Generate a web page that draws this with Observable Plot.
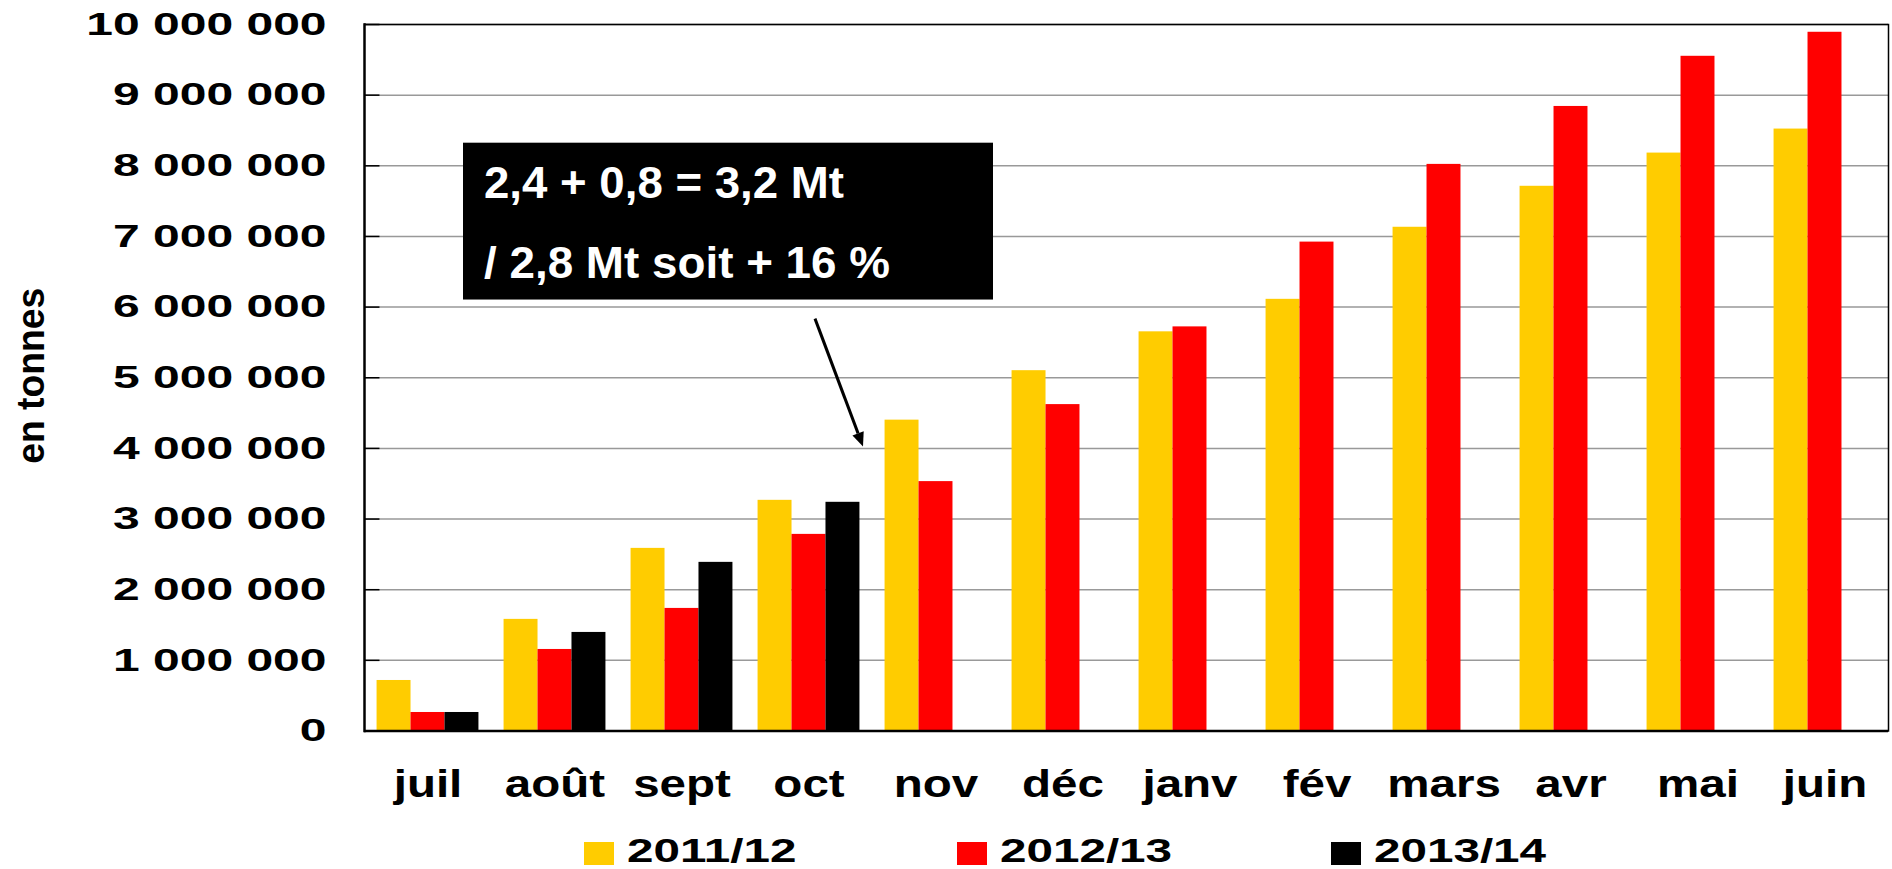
<!DOCTYPE html>
<html>
<head>
<meta charset="utf-8">
<script src="https://cdn.jsdelivr.net/npm/d3@7"></script>
<script src="https://cdn.jsdelivr.net/npm/@observablehq/plot@0.6"></script>
<style>
  html, body { margin: 0; padding: 0; background: #fff; }
  #chart { position: relative; width: 1892px; height: 869px;
           font-family: "Liberation Sans", Arial, sans-serif; }
  #legend { position: relative; width: 1892px; height: 54px; }
  #legend .sw { position: absolute; top: 27px; width: 30px; height: 23px; }
  #legend .lab { position: absolute; top: 19.7px; line-height: 30px; font-size: 34px;
                 font-weight: bold; color: #000; white-space: nowrap;
                 transform: scaleX(1.4); transform-origin: left center; }
</style>
</head>
<body>
<div id="chart"></div>
<script>
// ---- data ----
const months = ["juil", "août", "sept", "oct", "nov", "déc", "janv", "fév", "mars", "avr", "mai", "juin"];
const seasons = ["2011/12", "2012/13", "2013/14"];
const values2011 = [715000, 1580000, 2585000, 3265000, 4400000, 5100000, 5650000, 6110000, 7130000, 7710000, 8180000, 8520000];
const values2012 = [262000, 1154000, 1735000, 2783000, 3530000, 4620000, 5720000, 6920000, 8020000, 8840000, 9550000, 9890000];
const values2013 = [262000, 1395000, 2387000, 3237000, null, null, null, null, null, null, null, null];
const seasonColors = ["#FFCC00", "#FF0000", "#000000"];
const yTicks = [0, 1000000, 2000000, 3000000, 4000000, 5000000, 6000000, 7000000, 8000000, 9000000, 10000000];
const yLabel = "en tonnes";
const noteLines = ["2,4 + 0,8 = 3,2 Mt", "/ 2,8 Mt soit + 16 %"];

const FONT = '"Liberation Sans", Arial, sans-serif';
const seriesValues = [values2011, values2012, values2013];
const rows = [];
seriesValues.forEach((vals, s) => vals.forEach((v, i) => {
  if (v != null) rows.push({month: months[i], season: seasons[s], value: v});
}));
const fmt = v => d3.format(",")(v).replace(/,/g, " ");

const W = 1892, H = 815, ML = 362, MR = 3, MT = 24, MB = 84.5;
const facetWidth = (W - ML - MR) / months.length;

const plot = Plot.plot({
  width: W, height: H,
  marginLeft: ML, marginRight: MR, marginTop: MT, marginBottom: MB,
  style: {fontFamily: FONT, color: "#000", background: "#fff", overflow: "visible"},
  fx: {domain: months, padding: 0, label: null},
  x: {domain: seasons, paddingInner: 0, paddingOuter: 0.37, axis: null, round: false},
  y: {domain: [0, 10000000], label: null},
  color: {domain: seasons, range: seasonColors},
  marks: [
    Plot.gridY(yTicks, {stroke: "#999", strokeOpacity: 1, strokeWidth: 1.5}),
    Plot.barY(rows, {fx: "month", x: "season", y: "value", fill: "season"}),
    Plot.ruleY(yTicks, {facetAnchor: "left", insetRight: facetWidth - 15.7, stroke: "#000", strokeWidth: 1.5}),
    Plot.ruleY([0], {stroke: "#000", strokeWidth: 2.5}),
    Plot.ruleY([10000000], {stroke: "#000", strokeWidth: 1.5}),
    Plot.frame({anchor: "left", facetAnchor: "left", stroke: "#000", strokeWidth: 2.5}),
    Plot.frame({anchor: "right", facetAnchor: "right", stroke: "#000", strokeWidth: 1.5}),
    Plot.axisY(yTicks, {anchor: "left", tickSize: 0, tickPadding: 38, tickFormat: fmt,
      fontSize: 32, fontWeight: "bold", label: null}),
    Plot.axisFx({anchor: "bottom", tickSize: 0, tickPadding: 39, fontSize: 38, fontWeight: "bold", label: null}),
    Plot.text([yLabel], {text: d => d, frameAnchor: "left", facetAnchor: "left", rotate: -90,
      textAnchor: "middle", lineAnchor: "middle",
      dx: -333, dy: -2, fontSize: 38, fontWeight: "bold", fill: "#000"})
  ]
});

const chart = document.getElementById("chart");
chart.appendChild(plot);

// stretch / condense texts like the original
function fit(sel, k) {
  plot.querySelectorAll(sel).forEach(t => {
    const w = t.getComputedTextLength();
    t.setAttribute("textLength", (w * k).toFixed(1));
    t.setAttribute("lengthAdjust", "spacingAndGlyphs");
  });
}
fit('g[aria-label="y-axis tick label"] text', 1.5);
fit('g[aria-label="fx-axis tick label"] text', 1.25);
plot.querySelectorAll('g[aria-label="text"] text').forEach(t => {
  if (t.textContent === yLabel) {
    t.setAttribute("textLength", 176);
    t.setAttribute("lengthAdjust", "spacingAndGlyphs");
  }
});

// ---- annotation (anchored on the library scales) ----
const ys = plot.scale("y"), fxs = plot.scale("fx");
const NS = "http://www.w3.org/2000/svg";
const svg = plot.tagName.toLowerCase() === "svg" ? plot : plot.querySelector("svg");
const g = document.createElementNS(NS, "g");
g.setAttribute("aria-label", "annotation");
g.setAttribute("text-anchor", "start");
const bx0 = fxs.apply("août") - 28, bx1 = fxs.apply("nov") + 121;
const by0 = ys.apply(8320000), by1 = ys.apply(6100000);
const rect = document.createElementNS(NS, "rect");
rect.setAttribute("x", bx0); rect.setAttribute("y", by0);
rect.setAttribute("width", bx1 - bx0); rect.setAttribute("height", by1 - by0);
rect.setAttribute("fill", "#000");
g.appendChild(rect);
const baselines = [ys.apply(7540000), ys.apply(6410000)];
const lens = [360, 406];
noteLines.forEach((s, i) => {
  const t = document.createElementNS(NS, "text");
  t.setAttribute("x", bx0 + 21);
  t.setAttribute("y", baselines[i]);
  t.setAttribute("text-anchor", "start");
  t.setAttribute("fill", "#fff");
  t.setAttribute("font-size", "44");
  t.setAttribute("font-weight", "bold");
  t.setAttribute("font-family", FONT);
  t.setAttribute("textLength", lens[i]);
  t.setAttribute("lengthAdjust", "spacingAndGlyphs");
  t.textContent = s;
  g.appendChild(t);
});
// arrow
const ax0 = fxs.apply("oct") + 70, ay0 = ys.apply(5830000);
const ax1 = fxs.apply("oct") + 118, ay1 = ys.apply(4020000);
const dxv = ax1 - ax0, dyv = ay1 - ay0, L = Math.hypot(dxv, dyv);
const ux = dxv / L, uy = dyv / L, hl = 14, hw = 6;
const line = document.createElementNS(NS, "line");
line.setAttribute("x1", ax0); line.setAttribute("y1", ay0);
line.setAttribute("x2", ax1 - ux * hl); line.setAttribute("y2", ay1 - uy * hl);
line.setAttribute("stroke", "#000"); line.setAttribute("stroke-width", 3);
g.appendChild(line);
const head = document.createElementNS(NS, "path");
const bxh = ax1 - ux * hl, byh = ay1 - uy * hl;
head.setAttribute("d", `M${ax1},${ay1}L${bxh - uy * hw},${byh + ux * hw}L${bxh + uy * hw},${byh - ux * hw}Z`);
head.setAttribute("fill", "#000");
g.appendChild(head);
svg.appendChild(g);

// ---- legend ----
const legend = document.createElement("div");
legend.id = "legend";
seasons.forEach((s, i) => {
  const left = 584 + i * 373.3;
  const sw = document.createElement("div");
  sw.className = "sw"; sw.style.left = left + "px"; sw.style.background = seasonColors[i];
  const lab = document.createElement("div");
  lab.className = "lab"; lab.style.left = (left + 43) + "px"; lab.textContent = s;
  legend.appendChild(sw); legend.appendChild(lab);
});
chart.appendChild(legend);
</script>
</body>
</html>
